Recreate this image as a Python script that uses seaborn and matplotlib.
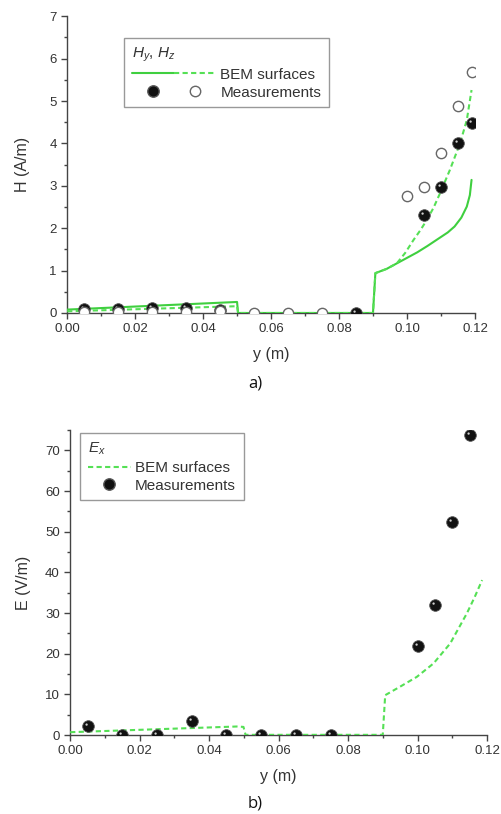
import numpy as np
import pandas as pd
import matplotlib
matplotlib.use("Agg")
import matplotlib.pyplot as plt
import seaborn as sns
from matplotlib.lines import Line2D
from matplotlib.path import Path
from matplotlib.markers import MarkerStyle
from matplotlib.legend_handler import HandlerTuple
from matplotlib.ticker import MultipleLocator

# ---- data: panel a) H field ----
h_solid_x = [0.0, 0.05, 0.0503, 0.09, 0.0907, 0.094, 0.097, 0.100, 0.103, 0.106, 0.109, 0.112, 0.114, 0.116, 0.1176, 0.1185, 0.119]
h_solid_y = [0.08, 0.26, 0.0, 0.0, 0.94, 1.04, 1.17, 1.30, 1.43, 1.58, 1.74, 1.90, 2.04, 2.25, 2.51, 2.78, 3.14]
h_dash_x = [0.0, 0.05, 0.0503, 0.09, 0.0907, 0.094, 0.097, 0.0995, 0.1019, 0.104, 0.1058, 0.1078, 0.1097, 0.1126, 0.1156, 0.1176, 0.119]
h_dash_y = [0.04, 0.16, 0.0, 0.0, 0.94, 1.04, 1.17, 1.42, 1.72, 1.96, 2.19, 2.48, 2.82, 3.37, 4.00, 4.55, 5.26]
h_meas_fill_x = [0.005, 0.015, 0.025, 0.035, 0.045, 0.085, 0.105, 0.110, 0.115, 0.119]
h_meas_fill_y = [0.10, 0.10, 0.11, 0.11, 0.08, 0.0, 2.30, 2.97, 4.02, 4.48]
h_meas_open_x = [0.005, 0.015, 0.025, 0.035, 0.045, 0.055, 0.065, 0.075, 0.100, 0.105, 0.110, 0.115, 0.119]
h_meas_open_y = [0.03, 0.03, 0.03, 0.03, 0.04, 0.0, 0.0, 0.0, 2.77, 2.97, 3.78, 4.88, 5.68]

# ---- data: panel b) E field ----
e_dash_x = [0.0, 0.048, 0.0499, 0.0505, 0.09, 0.0907, 0.095, 0.0998, 0.1046, 0.1094, 0.1142, 0.1165, 0.1186]
e_dash_y = [0.7, 2.1, 2.0, 0.05, 0.05, 9.8, 11.9, 14.3, 17.6, 22.5, 29.9, 34.0, 38.1]
e_meas_x = [0.005, 0.015, 0.025, 0.035, 0.045, 0.055, 0.065, 0.075, 0.100, 0.105, 0.110, 0.115]
e_meas_y = [2.2, 0.0, 0.0, 3.4, 0.0, 0.0, 0.0, 0.0, 21.9, 31.9, 52.4, 73.9]

sns.set_style("ticks")
plt.rcParams['font.family'] = ['Liberation Sans', 'DejaVu Sans']
plt.rcParams['mathtext.fontset'] = 'custom'
plt.rcParams['mathtext.it'] = 'Liberation Sans:italic'
plt.rcParams['mathtext.rm'] = 'Liberation Sans'

GREEN = '#3fcf3f'
GREEN_D = '#55e055'
TXT = '#333333'
DASH = (0, (2.5, 1.6))

# small light glint on the black "balls"
hl_path = Path.circle(center=(-0.33, 0.33), radius=0.2)
hl_path = Path(np.vstack([[[-1, -1], [1, 1]], hl_path.vertices]),
               [Path.MOVETO, Path.MOVETO] + list(hl_path.codes))
HL = MarkerStyle(hl_path)

fig = plt.figure(figsize=(5.01, 8.14), dpi=100)
ax1 = fig.add_axes([0.134, 0.6155, 0.814, 0.3645])
ax2 = fig.add_axes([0.140, 0.097, 0.832, 0.3747])

BALL = 70


def balls(ax, x, y):
    df = pd.DataFrame({'x': x, 'y': y})
    sns.scatterplot(data=df, x='x', y='y', ax=ax, color='#111111', s=BALL,
                    edgecolor='#555555', linewidth=0.6, zorder=4, clip_on=True)
    sns.scatterplot(data=df, x='x', y='y', ax=ax, color='#cfcfcf', s=BALL,
                    marker=HL, linewidth=0, zorder=5, clip_on=True)


# ---- panel a ----
sns.lineplot(data=pd.DataFrame({'x': h_solid_x, 'y': h_solid_y}), x='x', y='y', ax=ax1,
             sort=False, estimator=None, color=GREEN, linewidth=1.5, zorder=3)
sns.lineplot(data=pd.DataFrame({'x': h_dash_x, 'y': h_dash_y}), x='x', y='y', ax=ax1,
             sort=False, estimator=None, color=GREEN_D, linewidth=1.5, linestyle=DASH, zorder=3)
balls(ax1, h_meas_fill_x, h_meas_fill_y)
sns.scatterplot(data=pd.DataFrame({'x': h_meas_open_x, 'y': h_meas_open_y}), x='x', y='y', ax=ax1,
                facecolor='white', edgecolor='#666666', s=55, linewidth=1.0, zorder=6, clip_on=True)

ax1.set_xlim(0, 0.12)
ax1.set_ylim(0, 7)
ax1.xaxis.set_major_locator(MultipleLocator(0.02))
ax1.xaxis.set_minor_locator(MultipleLocator(0.01))
ax1.yaxis.set_major_locator(MultipleLocator(1))
ax1.yaxis.set_minor_locator(MultipleLocator(0.5))
ax1.xaxis.set_major_formatter(plt.FormatStrFormatter('%.2f'))
ax1.set_xlabel('y (m)', fontsize=11.5, color=TXT, labelpad=8)
ax1.set_ylabel('H (A/m)', fontsize=11.5, color=TXT, labelpad=14)

l_solid = Line2D([], [], color=GREEN, lw=1.5)
l_dash = Line2D([], [], color=GREEN_D, lw=1.5, linestyle=DASH)
m_fill = Line2D([], [], color='none', marker='o', markerfacecolor='#111111',
                markeredgecolor='#555555', markersize=8.2)
m_open = Line2D([], [], color='none', marker='o', markerfacecolor='white',
                markeredgecolor='#666666', markersize=7.5)
t_line = (l_solid, l_dash)
t_mark = (m_fill, m_open)
leg1 = ax1.legend([t_line, t_mark], ['BEM surfaces', 'Measurements'],
                  handler_map={t_line: HandlerTuple(ndivide=None, pad=0),
                               t_mark: HandlerTuple(ndivide=None, pad=0)},
                  title=r'$H_y$, $H_z$', alignment='left', fontsize=11, title_fontsize=11,
                  handlelength=5.5, handletextpad=0.3, loc='upper left',
                  bbox_to_anchor=(0.14, 0.927), borderaxespad=0, frameon=True, fancybox=False,
                  edgecolor='#999999', framealpha=1, borderpad=0.5, labelspacing=0.25)
leg1.get_frame().set_linewidth(1.0)
for t in leg1.get_texts():
    t.set_color(TXT)
leg1.get_title().set_color(TXT)

# ---- panel b ----
sns.lineplot(data=pd.DataFrame({'x': e_dash_x, 'y': e_dash_y}), x='x', y='y', ax=ax2,
             sort=False, estimator=None, color=GREEN_D, linewidth=1.5, linestyle=DASH, zorder=3)
balls(ax2, e_meas_x, e_meas_y)

ax2.set_xlim(0, 0.12)
ax2.set_ylim(0, 75)
ax2.xaxis.set_major_locator(MultipleLocator(0.02))
ax2.xaxis.set_minor_locator(MultipleLocator(0.01))
ax2.yaxis.set_major_locator(MultipleLocator(10))
ax2.yaxis.set_minor_locator(MultipleLocator(5))
ax2.xaxis.set_major_formatter(plt.FormatStrFormatter('%.2f'))
ax2.set_xlabel('y (m)', fontsize=11.5, color=TXT, labelpad=8)
ax2.set_ylabel('E (V/m)', fontsize=11.5, color=TXT, labelpad=10)

l_dash2 = Line2D([], [], color=GREEN_D, lw=1.5, linestyle=DASH)
m_fill2 = Line2D([], [], color='none', marker='o', markerfacecolor='#111111',
                 markeredgecolor='#555555', markersize=8.2)
leg2 = ax2.legend([l_dash2, m_fill2], ['BEM surfaces', 'Measurements'],
                  title=r'$E_x$', alignment='left', fontsize=11, title_fontsize=11,
                  handlelength=2.8, handletextpad=0.3, loc='upper left',
                  bbox_to_anchor=(0.024, 0.99), borderaxespad=0, frameon=True, fancybox=False,
                  edgecolor='#999999', framealpha=1, borderpad=0.5, labelspacing=0.25)
leg2.get_frame().set_linewidth(1.0)
for t in leg2.get_texts():
    t.set_color(TXT)
leg2.get_title().set_color(TXT)

for ax in (ax1, ax2):
    sns.despine(ax=ax)
    for s in ('left', 'bottom'):
        ax.spines[s].set_color('#444444')
        ax.spines[s].set_linewidth(1.0)
    ax.tick_params(which='major', direction='out', length=4, width=1, colors='#444444',
                   labelsize=9.5, labelcolor=TXT)
    ax.tick_params(which='minor', direction='out', length=2.5, width=1, colors='#444444')

fig.text(0.51, 1 - 383 / 814, 'a)', ha='center', va='center', fontsize=12,
         family=['Open Sans', 'DejaVu Sans'], color='#111111')
fig.text(0.51, 1 - 803 / 814, 'b)', ha='center', va='center', fontsize=12,
         family=['Open Sans', 'DejaVu Sans'], color='#111111')

fig.savefig('out.png', dpi=100)
